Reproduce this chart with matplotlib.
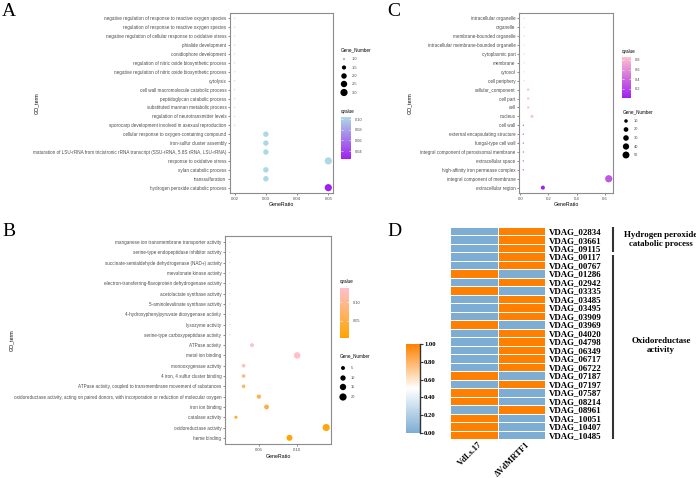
import numpy as np
import matplotlib
matplotlib.use('Agg')
import matplotlib.pyplot as plt
import matplotlib.transforms as mtransforms
from matplotlib.colors import LinearSegmentedColormap, Normalize

W, H = 696, 478

# ---------------- A : biological process ----------------
a_terms = [
    'negative regulation of response to reactive oxygen species',
    'regulation of response to reactive oxygen species',
    'negative regulation of cellular response to oxidative stress',
    'phialide development',
    'conidiophore development',
    'regulation of nitric oxide biosynthetic process',
    'negative regulation of nitric oxide biosynthetic process',
    'cytolysis',
    'cell wall macromolecule catabolic process',
    'peptidoglycan catabolic process',
    'substituted mannan metabolic process',
    'regulation of neurotransmitter levels',
    'sporocarp development involved in asexual reproduction',
    'cellular response to oxygen-containing compound',
    'iron-sulfur cluster assembly',
    'maturation of LSU-rRNA from tricistronic rRNA transcript (SSU-rRNA, 5.8S rRNA, LSU-rRNA)',
    'response to oxidative stress',
    'xylan catabolic process',
    'transsulfuration',
    'hydrogen peroxide catabolic process',
]
a_ratio = [0.02, 0.02, 0.02, 0.02, 0.02, 0.02, 0.02, 0.02, 0.02, 0.02,
           0.02, 0.02, 0.02, 0.03, 0.03, 0.03, 0.05, 0.03, 0.03, 0.05]
a_count = [1, 1, 1, 1, 1, 1, 1, 1, 1, 1, 1, 1, 1, 2, 2, 2, 3, 2, 2, 3]
a_qvalue = [0.104, 0.104, 0.104, 0.104, 0.104, 0.104, 0.104, 0.104, 0.104, 0.104,
            0.104, 0.104, 0.104, 0.104, 0.104, 0.104, 0.104, 0.104, 0.104, 0.025]

# ---------------- B : molecular function ----------------
b_terms = [
    'manganese ion transmembrane transporter activity',
    'serine-type endopeptidase inhibitor activity',
    'succinate-semialdehyde dehydrogenase (NAD+) activity',
    'mevalonate kinase activity',
    'electron-transferring-flavoprotein dehydrogenase activity',
    'acetolactate synthase activity',
    '5-aminolevulinate synthase activity',
    '4-hydroxyphenylpyruvate dioxygenase activity',
    'lysozyme activity',
    'serine-type carboxypeptidase activity',
    'ATPase activity',
    'metal ion binding',
    'monooxygenase activity',
    '4 iron, 4 sulfur cluster binding',
    'ATPase activity, coupled to transmembrane movement of substances',
    'oxidoreductase activity, acting on paired donors, with incorporation or reduction of molecular oxygen',
    'iron ion binding',
    'catalase activity',
    'oxidoreductase activity',
    'heme binding',
]
b_ratio = [0.012, 0.012, 0.012, 0.012, 0.012, 0.012, 0.012, 0.012, 0.012, 0.012,
           0.041, 0.100, 0.030, 0.030, 0.030, 0.050, 0.060, 0.020, 0.138, 0.090]
b_count = [1, 1, 1, 1, 1, 1, 1, 1, 1, 1, 5, 16, 4, 4, 4, 6, 8, 3, 20, 13]
b_qvalue = [0.137, 0.137, 0.137, 0.137, 0.137, 0.137, 0.137, 0.137, 0.137, 0.137,
            0.135, 0.137, 0.125, 0.09, 0.075, 0.06, 0.05, 0.04, 0.015, 0.005]

# ---------------- C : cellular component ----------------
c_terms = [
    'intracellular organelle',
    'organelle',
    'membrane-bounded organelle',
    'intracellular membrane-bounded organelle',
    'cytoplasmic part',
    'membrane',
    'cytosol',
    'cell periphery',
    'cellular_component',
    'cell part',
    'cell',
    'nucleus',
    'cell wall',
    'external encapsulating structure',
    'fungal-type cell wall',
    'integral component of peroxisomal membrane',
    'extracellular space',
    'high-affinity iron permease complex',
    'integral component of membrane',
    'extracellular region',
]
c_ratio = [0.025, 0.025, 0.025, 0.025, 0.025, 0.025, 0.025, 0.025, 0.055, 0.055,
           0.055, 0.082, 0.02, 0.02, 0.02, 0.02, 0.02, 0.02, 0.63, 0.16]
c_count = [2, 2, 2, 2, 2, 2, 2, 2, 4, 4, 4, 7, 2, 2, 2, 2, 2, 2, 55, 14]
c_qvalue = [0.86, 0.86, 0.86, 0.86, 0.86, 0.86, 0.86, 0.86, 0.86, 0.86,
            0.86, 0.86, 0.1, 0.1, 0.1, 0.1, 0.1, 0.1, 0.3, 0.014]

# ---------------- D : heatmap ----------------
d_genes = ['VDAG_02834', 'VDAG_03661', 'VDAG_09115', 'VDAG_00117', 'VDAG_00767',
           'VDAG_01286', 'VDAG_02942', 'VDAG_03335', 'VDAG_03485', 'VDAG_03495',
           'VDAG_03909', 'VDAG_03969', 'VDAG_04020', 'VDAG_04798', 'VDAG_06349',
           'VDAG_06717', 'VDAG_06722', 'VDAG_07187', 'VDAG_07197', 'VDAG_07587',
           'VDAG_08214', 'VDAG_08961', 'VDAG_10051', 'VDAG_10407', 'VDAG_10485']
d_samples = ['VdLs.17', '\u0394VdMRTF1']
d_wt = [0, 0, 0, 0, 0, 1, 0, 1, 0, 0, 0, 1, 0, 0, 0, 0, 0, 1, 0, 1, 1, 0, 1, 1, 1]
d_mut = [1, 1, 1, 1, 1, 0, 1, 0, 1, 1, 1, 0, 1, 1, 1, 1, 1, 0, 1, 0, 0, 1, 0, 0, 0]
d_groups = ['Hydrogen peroxide\ncatabolic process', 'Oxidoreductase\nactivity']
d_group_sizes = [3, 22]

plt.rcParams['font.family'] = 'Liberation Sans'
GREY = '#4D4D4D'
SERIF = 'Liberation Serif'

fig = plt.figure(figsize=(W / 100, H / 100), dpi=100)

# overlay in pixel coords for legend keys / titles
lax = fig.add_axes([0, 0, 1, 1])
lax.set_xlim(0, W)
lax.set_ylim(H, 0)
lax.axis('off')
lax.set_zorder(10)


def px_rect(x0, y0, x1, y1):
    return [x0 / W, 1 - y1 / H, (x1 - x0) / W, (y1 - y0) / H]


def dot_area(c, cmin, cmax):
    t = (np.asarray(c, float) - cmin) / (cmax - cmin)
    d = 1.2 + 6.0 * np.sqrt(np.clip(t, 0, 1))   # diameter in px
    return (d * 0.72) ** 2


def dotplot(box, terms, ratio, count, qvalue, cmap, xticks, xfmt, ylab_x):
    ax = fig.add_axes(px_rect(*box))
    n = len(terms)
    ypos = np.arange(n, 0, -1)
    norm = Normalize(min(qvalue), max(qvalue))
    sc = ax.scatter(ratio, ypos, s=dot_area(count, min(count), max(count)),
                    c=qvalue, cmap=cmap, norm=norm, edgecolors='none', zorder=3)
    lo, hi = min(ratio), max(ratio)
    pad = 0.05 * (hi - lo)
    ax.set_xlim(lo - pad, hi + pad)
    ax.set_ylim(0.4, n + 0.6)
    ax.set_yticks(ypos)
    ax.set_yticklabels(terms, fontsize=3.3)
    ax.set_xticks(xticks)
    ax.set_xticklabels([xfmt % v for v in xticks], fontsize=3.1)
    ax.tick_params(labelcolor=GREY, length=1.6, width=0.4, color='#333333', pad=1)
    for s in ax.spines.values():
        s.set_color('#8c8c8c')
        s.set_linewidth(0.8)
    x0, y0, x1, y1 = box
    lax.text((x0 + x1) / 2, y1 + 12, 'GeneRatio', fontsize=3.8, ha='center', va='center')
    lax.text(ylab_x, (y0 + y1) / 2, 'GO_term', fontsize=3.8, ha='center', va='center',
             rotation=90)
    return sc


def q_colorbar(sc, box, ticks, fmt):
    cax = fig.add_axes(px_rect(*box))
    cb = fig.colorbar(sc, cax=cax)
    cb.outline.set_visible(False)
    cb.set_ticks(ticks)
    cb.set_ticklabels([fmt % t for t in ticks])
    cax.yaxis.set_ticks_position('both')
    cax.tick_params(length=1.5, width=0.4, color='white', direction='in',
                    labelsize=2.9, labelcolor=GREY, pad=2.5, labelleft=False, labelright=True)
    lax.text(box[0], box[1] - 6, 'qvalue', fontsize=3.3, va='center')


def size_legend(x, ys, breaks, fmt, cmin, cmax, title_y):
    lax.text(x - 3, title_y, 'Gene_Number', fontsize=3.3, va='center')
    lax.scatter([x] * len(breaks), ys, s=dot_area(breaks, cmin, cmax), c='black',
                edgecolors='none')
    for b, y in zip(breaks, ys):
        lax.text(x + 8, y, fmt % b, fontsize=2.9, color=GREY, va='center')


cm_a = LinearSegmentedColormap.from_list('a', ['#A020F0', '#ADD8E6'])
cm_b = LinearSegmentedColormap.from_list('b', ['#FFA500', '#FFC0CB'])
cm_c = LinearSegmentedColormap.from_list('c', ['#A020F0', '#FFC0CB'])

# panel A
sc_a = dotplot((230, 13, 333, 193), a_terms, a_ratio, a_count, a_qvalue, cm_a,
               [0.02, 0.03, 0.04, 0.05], '%.2f', 37)
size_legend(344, [59, 67.5, 76, 84, 92.5], [1.0, 1.5, 2.0, 2.5, 3.0], '%.1f',
            min(a_count), max(a_count), 50)
q_colorbar(sc_a, (341, 117, 351, 159), [0.04, 0.06, 0.08, 0.10], '%.2f')

# panel B
sc_b = dotplot((225, 236, 331, 444), b_terms, b_ratio, b_count, b_qvalue, cm_b,
               [0.05, 0.10], '%.2f', 12)
q_colorbar(sc_b, (340, 288, 349, 338), [0.05, 0.10], '%.2f')
size_legend(343, [368, 378, 387, 397], [5, 10, 15, 20], '%d',
            min(b_count), max(b_count), 356)

# panel C
sc_c = dotplot((519, 13, 613, 193), c_terms, c_ratio, c_count, c_qvalue, cm_c,
               [0.0, 0.2, 0.4, 0.6], '%.1f', 410)
q_colorbar(sc_c, (622, 57, 631, 98), [0.2, 0.4, 0.6, 0.8], '%.1f')
size_legend(626, [121, 129.5, 138, 146.5, 155], [10, 20, 30, 40, 50], '%d',
            min(c_count), max(c_count), 112)

# panel D heatmap
cm_d = LinearSegmentedColormap.from_list('d', ['#7DADD3', '#FFFFFF', '#FF8000'])
axd = fig.add_axes(px_rect(450, 227, 545, 439))
mat = np.column_stack([d_wt, d_mut])
mesh = axd.pcolormesh(mat, cmap=cm_d, vmin=0, vmax=1, edgecolors='white', linewidth=0.6)
n = len(d_genes)
axd.set_xlim(0, 2)
axd.set_ylim(n, 0)
for s in axd.spines.values():
    s.set_visible(False)
axd.yaxis.tick_right()
axd.set_yticks(np.arange(n) + 0.5)
axd.set_yticklabels(d_genes, fontfamily=SERIF, fontweight='bold', fontsize=6.4)
axd.set_xticks([0.5, 1.5])
axd.set_xticklabels(d_samples, fontfamily=SERIF, fontweight='bold', fontsize=6.1,
                    rotation=45, ha='right', va='top', rotation_mode='anchor')
axd.tick_params(axis='y', length=0, pad=2.5)
axd.tick_params(axis='x', length=0, pad=1)
off = mtransforms.ScaledTranslation(4 / 100, 0, fig.dpi_scale_trans)
for lab in axd.get_xticklabels():
    lab.set_transform(lab.get_transform() + off)

# group brackets
start = 0
for g, size in zip(d_groups, d_group_sizes):
    end = start + size
    y0 = start + (0.3 if start > 0 else 0)
    y1 = end - (0.05 if end < n else 0)
    axd.plot([3.43, 3.43], [y0, y1], color='#333333', lw=1.5, clip_on=False,
             solid_capstyle='butt')
    axd.text(4.44, (start + end) / 2, g, fontfamily=SERIF, fontweight='bold',
             fontsize=6.4, ha='center', va='center', linespacing=1.1)
    start = end

cax = fig.add_axes(px_rect(406, 344, 420, 433))
cb = fig.colorbar(mesh, cax=cax)
cb.outline.set_visible(False)
cb.set_ticks([0, 0.2, 0.4, 0.6, 0.8, 1.0])
cb.set_ticklabels(['%.2f' % t for t in [0, 0.2, 0.4, 0.6, 0.8, 1.0]])
cax.tick_params(length=2, width=0.8, color='#333333', pad=1)
for lab in cax.get_yticklabels():
    lab.set_fontfamily(SERIF)
    lab.set_fontweight('bold')
    lab.set_fontsize(4.8)
cax.plot([1, 1], [0, 1], transform=cax.transAxes, color='#333333', lw=1,
         clip_on=False)

# panel letters
for letter, (x, y) in zip('ABCD', [(2, 15.5), (2, 236), (387, 15.5), (387, 236)]):
    lax.text(x, y, letter, fontfamily=SERIF, fontsize=14, va='baseline', ha='left')

fig.savefig('out.png', dpi=100)
